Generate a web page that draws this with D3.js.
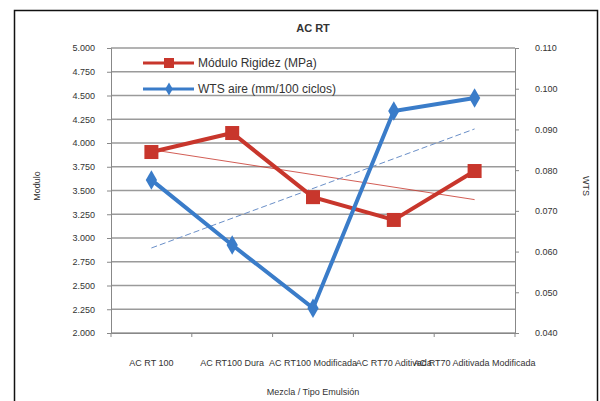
<!DOCTYPE html>
<meta charset="utf-8">
<script src="https://d3js.org/d3.v7.min.js"></script>
<style>
body { margin: 0; background: #fff; }
text { font-family: "Liberation Sans", Arial, sans-serif; fill: #333; }
.grid line { stroke: #9a9a9a; stroke-width: 1.3px; }
.axis path, .axis line { stroke: #888; }
</style>
<body>
<script>

var categories = ["AC RT 100", "AC RT100 Dura", "AC RT100 Modificada", "AC RT70 Aditivada", "AC RT70 Aditivada Modificada"];
var modulo = [3.905, 4.105, 3.43, 3.19, 3.705];
var wts = [0.0776, 0.0616, 0.0461, 0.0945, 0.0977];
var leftTicks = [2.0, 2.25, 2.5, 2.75, 3.0, 3.25, 3.5, 3.75, 4.0, 4.25, 4.5, 4.75, 5.0];
var rightTicks = [0.04, 0.05, 0.06, 0.07, 0.08, 0.09, 0.10, 0.11];

var width = 600, height = 401;
var pLeft = 111, pRight = 515, pTop = 48, pBottom = 333;

var svg = d3.select("body").append("svg")
    .attr("width", width)
    .attr("height", height);

// outer frame
svg.append("rect")
    .attr("x", 14.5).attr("y", 10.5)
    .attr("width", 583).attr("height", 400)
    .attr("fill", "#fff").attr("stroke", "#111").attr("stroke-width", 1.5);

var x = d3.scaleBand().domain(categories).range([pLeft, pRight]);
var yL = d3.scaleLinear().domain([2, 5]).range([pBottom, pTop]);
var yR = d3.scaleLinear().domain([0.04, 0.11]).range([pBottom, pTop]);
var cx = function(d, i) { return x(categories[i]) + x.bandwidth() / 2; };

// gridlines
svg.append("g").attr("class", "grid")
  .selectAll("line")
  .data(leftTicks)
  .enter().append("line")
    .attr("x1", pLeft).attr("x2", pRight)
    .attr("y1", function(d) { return yL(d); })
    .attr("y2", function(d) { return yL(d); });

// left axis
svg.append("g").attr("class", "axis")
    .attr("transform", "translate(" + pLeft + ",0)")
    .call(d3.axisLeft(yL).tickValues(leftTicks).tickFormat(d3.format(".3f")).tickSize(4).tickPadding(12))
    .call(function(g) { g.selectAll("text").style("font-size", "9px").attr("fill", "#444"); });

// right axis
svg.append("g").attr("class", "axis")
    .attr("transform", "translate(" + pRight + ",0)")
    .call(d3.axisRight(yR).tickValues(rightTicks).tickFormat(d3.format(".3f")).tickSize(4).tickPadding(16))
    .call(function(g) { g.selectAll("text").style("font-size", "9px").attr("fill", "#444"); });

// bottom axis
var xa = svg.append("g").attr("class", "axis")
    .attr("transform", "translate(0," + pBottom + ")")
    .call(d3.axisBottom(x).tickSize(0).tickPadding(27));
xa.selectAll("text").style("font-size", "9px").attr("fill", "#444");
xa.selectAll(".sep")
  .data(d3.range(categories.length + 1))
  .enter().append("line")
    .attr("x1", function(i) { return pLeft + i * x.bandwidth(); })
    .attr("x2", function(i) { return pLeft + i * x.bandwidth(); })
    .attr("y1", 0).attr("y2", 4)
    .attr("stroke", "#888");

// titles
svg.append("text").attr("x", 313).attr("y", 32)
    .attr("text-anchor", "middle")
    .style("font-size", "11px").style("font-weight", "bold")
    .text("AC RT");
svg.append("text").attr("x", 313).attr("y", 395)
    .attr("text-anchor", "middle")
    .style("font-size", "9px").attr("fill", "#444")
    .text("Mezcla / Tipo Emulsión");
svg.append("text")
    .attr("transform", "translate(40,186) rotate(-90)")
    .attr("text-anchor", "middle")
    .style("font-size", "9px").attr("fill", "#444")
    .text("Modulo");
svg.append("text")
    .attr("transform", "translate(583,186) rotate(90)")
    .attr("text-anchor", "middle")
    .style("font-size", "9px").attr("fill", "#444")
    .text("WTS");

var red = "#c8362c", blue = "#3a7cc9";

// linear trendlines
function trend(vals) {
  var n = vals.length, xs = d3.range(1, n + 1);
  var mx = d3.mean(xs), my = d3.mean(vals);
  var slope = d3.sum(xs, function(v, i) { return (v - mx) * (vals[i] - my); }) /
              d3.sum(xs, function(v) { return (v - mx) * (v - mx); });
  return [my + slope * (1 - mx), my + slope * (n - mx)];
}
var tr = trend(modulo), tb = trend(wts);
svg.append("line")
    .attr("x1", cx(0, 0)).attr("x2", cx(0, 4))
    .attr("y1", yL(tr[0])).attr("y2", yL(tr[1]))
    .attr("stroke", red).attr("stroke-width", 1).attr("opacity", 0.8);
svg.append("line")
    .attr("x1", cx(0, 0)).attr("x2", cx(0, 4))
    .attr("y1", yR(tb[0])).attr("y2", yR(tb[1]))
    .attr("stroke", "#6a8fc8").attr("stroke-width", 1)
    .attr("stroke-dasharray", "6,3");

// series lines
svg.append("path")
    .datum(modulo)
    .attr("fill", "none").attr("stroke", red).attr("stroke-width", 4)
    .attr("d", d3.line().x(cx).y(function(d) { return yL(d); }));
svg.append("path")
    .datum(wts)
    .attr("fill", "none").attr("stroke", blue).attr("stroke-width", 4)
    .attr("d", d3.line().x(cx).y(function(d) { return yR(d); }));

// markers
svg.selectAll(".sq")
  .data(modulo)
  .enter().append("rect")
    .attr("x", function(d, i) { return cx(d, i) - 7; })
    .attr("y", function(d) { return yL(d) - 7; })
    .attr("width", 14).attr("height", 14)
    .attr("fill", red);
svg.selectAll(".dm")
  .data(wts)
  .enter().append("path")
    .attr("d", d3.symbol().type(d3.symbolDiamond).size(110))
    .attr("transform", function(d, i) { return "translate(" + cx(d, i) + "," + yR(d) + ")"; })
    .attr("fill", blue);

// legend
var legend = [
  {name: "Módulo Rigidez (MPa)", color: red, shape: "sq", y: 63},
  {name: "WTS aire (mm/100 ciclos)", color: blue, shape: "dm", y: 89}
];
var lg = svg.selectAll(".lg").data(legend).enter().append("g");
lg.append("line")
    .attr("x1", 143).attr("x2", 194)
    .attr("y1", function(d) { return d.y; }).attr("y2", function(d) { return d.y; })
    .attr("stroke", function(d) { return d.color; }).attr("stroke-width", 3);
lg.filter(function(d) { return d.shape == "sq"; }).append("rect")
    .attr("x", 164).attr("y", function(d) { return d.y - 5; })
    .attr("width", 10).attr("height", 10)
    .attr("fill", function(d) { return d.color; });
lg.filter(function(d) { return d.shape == "dm"; }).append("path")
    .attr("d", d3.symbol().type(d3.symbolDiamond).size(50))
    .attr("transform", function(d) { return "translate(169," + d.y + ")"; })
    .attr("fill", function(d) { return d.color; });
lg.append("text")
    .attr("x", 198).attr("y", function(d) { return d.y + 4; })
    .style("font-size", "12px").attr("fill", "#555")
    .text(function(d) { return d.name; });

</script>
</body>
</html>
